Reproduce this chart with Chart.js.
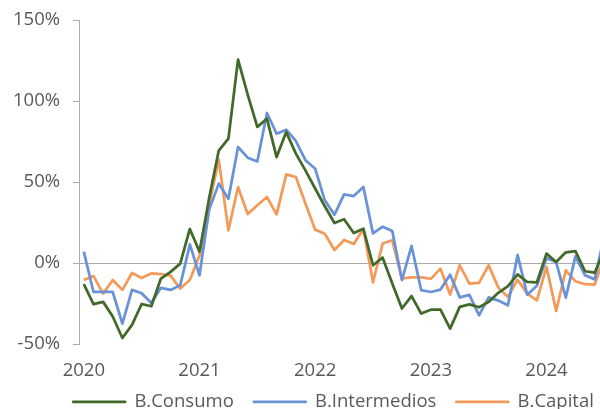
<!DOCTYPE html>
<html><head><meta charset="utf-8">
<script src="https://cdn.jsdelivr.net/npm/chart.js@4"></script>
<style>
html,body{margin:0;padding:0;background:#fff;overflow:hidden;width:600px;height:409px;}
#wrap{position:absolute;left:0;top:0;width:667px;height:421px;}
</style></head><body>
<div id="wrap"><canvas id="c" width="667" height="421"></canvas></div>
<script>
// Monthly year-over-year variation (%), Jan 2020 onward
const yearLabels = ['2020', '2021', '2022', '2023', '2024'];
const consumo = [-13,-25.4,-24,-33,-46.3,-38.2,-25.3,-26.7,-9.6,-5.5,-0.4,21,7,
  40,69.4,76.8,125.5,104,84,89,65.4,80.8,67.5,57,46,35,
  24.7,27,18.5,21.2,-1.4,3.3,-12.7,-28.1,-20.4,-31.2,-28.8,-28.8,-40.5,
  -27.1,-25.5,-27.3,-24,-18.4,-14.3,-7,-11.7,-12,5.8,0.6,6.6,7.3,-5.1,-6,8];
const intermedios = [7,-17.9,-17.9,-17.9,-37.4,-16.6,-18.7,-24.7,-15.3,-16.6,-13.8,11.5,-7.6,
  33,49,39.7,71.6,65,62.7,92.6,79.8,82.3,75.3,63.4,58.2,38.7,
  29.8,42.4,41.3,46.9,18.3,22.4,19.7,-10.5,10.5,-16.8,-17.9,-16.4,-7.2,
  -21.2,-19.7,-32.3,-21.2,-23.2,-26.1,5,-19.6,-14.1,3,0.6,-21.4,4.1,-7.6,-10.1,17];
const capital = [-10.5,-8,-18.9,-10.5,-16.6,-6.2,-9.3,-6.4,-6.8,-7.8,-15.8,-10.5,4.7,
  36,63.8,20.2,46.9,30.2,35.6,40.7,30,54.7,53.1,36.6,20.6,18.1,
  8,14.2,11.7,21,-11.9,12,14,-9.6,-8.8,-8.8,-9.8,-3.5,-19.5,
  -1.4,-12.7,-12.3,-1.4,-15.2,-21,-10.3,-18.9,-23,-2.4,-29.6,-4.5,-11.3,-13.1,-13.3,4];
const yTicks = [-50, 0, 50, 100, 150];

const toPts = arr => arr.map((v, i) => ({x: i, y: v}));
const FONT = {family: "'Open Sans', sans-serif", size: 18.5};
const GRAY = '#595959';
const AXIS = '#ABABAB';
const ds = (label, arr, color) => ({
  label, data: toPts(arr), borderColor: color, backgroundColor: color,
  borderWidth: 2.75, pointRadius: 0, tension: 0, borderJoinStyle: 'round'
});

new Chart(document.getElementById('c'), {
  type: 'line',
  data: {datasets: [
    ds('B.Consumo', consumo, '#41692A'),
    ds('B.Intermedios', intermedios, '#6A92D8'),
    ds('B.Capital', capital, '#F39A5A')
  ]},
  options: {
    responsive: false, animation: false, devicePixelRatio: 1,
    layout: {padding: {top: 20, left: 0, right: 0, bottom: 0}},
    plugins: {
      legend: {position: 'bottom', labels: {font: FONT, color: GRAY, boxWidth: 52, boxHeight: 0, padding: 20}},
      tooltip: {enabled: false}, title: {display: false}
    },
    scales: {
      x: {
        type: 'linear', min: -0.5, max: 60.5,
        grid: {display: false}, border: {display: false},
        afterBuildTicks: s => { s.ticks = yearLabels.map((_, k) => ({value: k * 12})); },
        ticks: {font: FONT, color: GRAY, padding: 8, autoSkip: false, maxRotation: 0,
                callback: v => yearLabels[Math.round(v / 12)]},
        afterFit: s => { s.height = 28.5; s._computeLabelArea = () => undefined; }
      },
      y: {
        min: -50, max: 150,
        afterBuildTicks: s => { s.ticks = yTicks.map(v => ({value: v})); },
        ticks: {font: FONT, color: GRAY, padding: 13, callback: v => v + '%'},
        grid: {color: c => (c.tick && c.tick.value === 0) ? AXIS : 'rgba(0,0,0,0)', tickColor: AXIS, tickLength: 6, lineWidth: 1},
        border: {display: true, color: AXIS, width: 1},
        afterFit: s => { s.width = 79; s.paddingTop = 0; s.paddingBottom = 0; }
      }
    }
  }
});
</script>
</body></html>
